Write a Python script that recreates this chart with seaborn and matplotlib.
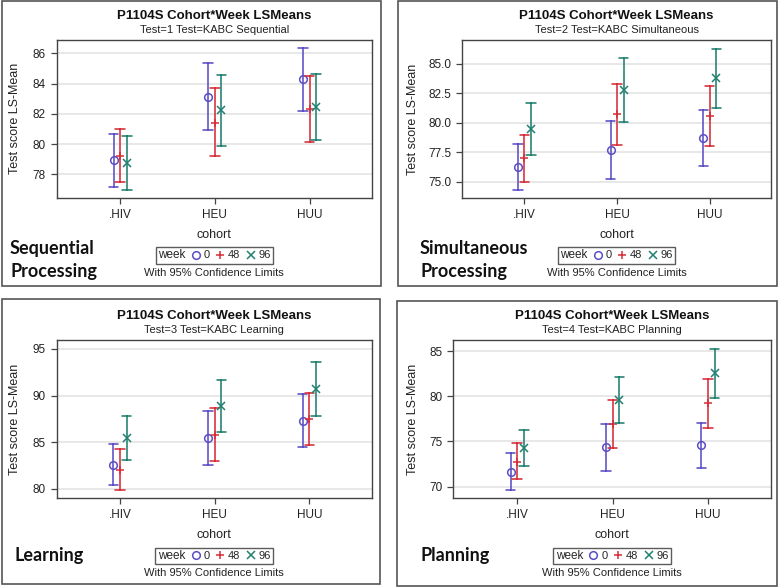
import numpy as np
import pandas as pd
import matplotlib
matplotlib.use("Agg")
import matplotlib.pyplot as plt
from matplotlib.lines import Line2D
from matplotlib.patches import Rectangle
import seaborn as sns

# ── Data ─────────────────────────────────────────────────────────────────
cohorts = [".HIV", "HEU", "HUU"]
weeks = ["0", "48", "96"]

subtitles = [
    "Test=1 Test=KABC Sequential",
    "Test=2 Test=KABC Simultaneous",
    "Test=3 Test=KABC Learning",
    "Test=4 Test=KABC Planning",
]
side_labels = ["Sequential\nProcessing", "Simultaneous\nProcessing", "Learning", "Planning"]

# values ordered cohort-major, week-minor
seq_mean = [78.93, 79.23, 78.75, 83.13, 81.41, 82.23, 84.28, 82.32, 82.47]
seq_low  = [77.19, 77.49, 76.96, 80.91, 79.19, 79.89, 82.19, 80.11, 80.29]
seq_high = [80.64, 80.97, 80.56, 85.36, 83.68, 84.59, 86.33, 84.52, 84.65]

sim_mean = [76.22, 76.98, 79.48, 77.66, 80.72, 82.82, 78.74, 80.61, 83.81]
sim_low  = [74.29, 74.97, 77.27, 75.23, 78.14, 80.07, 76.30, 78.06, 81.26]
sim_high = [78.20, 78.99, 81.66, 80.13, 83.27, 85.54, 81.12, 83.16, 86.30]

lrn_mean = [82.61, 82.04, 85.50, 85.50, 85.82, 88.89, 87.32, 87.50, 90.71]
lrn_low  = [80.43, 79.86, 83.11, 82.57, 83.00, 86.14, 84.46, 84.68, 87.79]
lrn_high = [84.79, 84.25, 87.86, 88.39, 88.68, 91.64, 90.18, 90.32, 93.64]

pln_mean = [71.66, 72.76, 74.31, 74.35, 76.89, 79.62, 74.61, 79.21, 82.53]
pln_low  = [69.59, 70.81, 72.32, 71.70, 74.24, 77.04, 72.06, 76.52, 79.80]
pln_high = [73.76, 74.79, 76.23, 76.97, 79.58, 82.16, 77.08, 81.91, 85.26]

yticks_list = [
    [78, 80, 82, 84, 86],
    [75.0, 77.5, 80.0, 82.5, 85.0],
    [80, 85, 90, 95],
    [70, 75, 80, 85],
]
ylims = [(76.46, 86.88), (73.58, 87.04), (79.0, 95.96), (68.71, 86.22)]

colors = ["#5a4ec6", "#d62d38", "#1f8070"]
markers = ["o", "+", "x"]


def build_frame(mean, low, high):
    # three rows per group: lower, mean, upper -> median gives the mean,
    # min/max give the confidence limits
    rows = []
    i = 0
    for c in cohorts:
        for w in weeks:
            for v in (low[i], mean[i], high[i]):
                rows.append({"cohort": c, "week": w, "value": v})
            i += 1
    return pd.DataFrame(rows)


frames = [
    build_frame(seq_mean, seq_low, seq_high),
    build_frame(sim_mean, sim_low, sim_high),
    build_frame(lrn_mean, lrn_low, lrn_high),
    build_frame(pln_mean, pln_low, pln_high),
]

# ── Layout (pixel boxes) ────────────────────────────────────────────────
W, H = 780, 588
axes_px = [
    (56.7, 40, 372, 197.7),
    (462.3, 40, 771, 198.3),
    (56.7, 340, 371.7, 498.3),
    (453.3, 340, 771, 498.3),
]
panel_px = [
    (2, 1, 381, 286),
    (398, 1, 777, 286),
    (2, 299, 380, 584),
    (397, 301, 777, 586),
]
side_px = [(10, 260), (420, 260), (15, 556), (420, 556)]
ylabel_x = [15, 413, 15, 413]


def fx(x):
    return x / W


def fy(y):
    return 1 - y / H


sns.set_style("white")
plt.rcParams["font.family"] = ["Liberation Sans", "DejaVu Sans"]

fig = plt.figure(figsize=(7.8, 5.88), dpi=100)

for k in range(4):
    l, t, r, b = axes_px[k]
    ax = fig.add_axes([fx(l), fy(b), (r - l) / W, (b - t) / H])
    sns.pointplot(
        data=frames[k], x="cohort", y="value", hue="week",
        order=cohorts, hue_order=weeks, palette=colors,
        estimator="median", errorbar=lambda v: (v.min(), v.max()),
        dodge=0.14, markers=markers, linestyle="none",
        capsize=0.1, err_kws={"linewidth": 1.15},
        markersize=5.5, markeredgewidth=1.1,
        legend=False, ax=ax,
    )
    for ln in ax.lines:
        if ln.get_marker() == "o":
            ln.set_markerfacecolor("none")

    ax.set_xlim(-0.67, 2.66)
    ax.set_ylim(*ylims[k])
    ax.set_yticks(yticks_list[k])
    if k == 1:
        ax.set_yticklabels([f"{v:.1f}" for v in yticks_list[k]])
    ax.yaxis.grid(True, color="#e4e4e4", linewidth=1.2)
    ax.set_axisbelow(True)
    for s in ax.spines.values():
        s.set_color("#444444")
        s.set_linewidth(1.0)
    ax.tick_params(axis="both", which="both", length=4, width=0.9,
                   color="#444444", labelsize=8.5, labelcolor="#222222",
                   left=True, bottom=True, pad=4)

    ax.set_xlabel("cohort", fontsize=9, color="#222222")
    ax.set_ylabel("Test score LS-Mean", fontsize=9, color="#222222")
    cy_lab = 235 if k < 2 else 535
    ax.xaxis.set_label_coords(0.5, (b - cy_lab) / (b - t))
    ax.xaxis.label.set_va("center")
    ax.yaxis.set_label_coords((ylabel_x[k] - l) / (r - l), 0.5)
    ax.yaxis.label.set_va("center")

    cx = (l + r) / 2
    ty = 16 if k < 2 else 316
    fig.text(fx(cx), fy(ty), "P1104S Cohort*Week LSMeans", ha="center",
             va="center", fontsize=9.5, fontweight="bold", color="#111111")
    fig.text(fx(cx), fy(ty + 14), subtitles[k], ha="center", va="center",
             fontsize=8, color="#222222")

    # legend: "week" title placed inline, to the left of the entries
    handles = []
    for c, m in zip(colors, markers):
        handles.append(Line2D([], [], linestyle="none", marker=m, color=c,
                              markerfacecolor="none", markersize=5.5,
                              markeredgewidth=1.1))
    leg_y = 255.5 if k < 2 else 556
    leg = ax.legend(handles, weeks, title="week", ncol=3, loc="center",
                    bbox_to_anchor=(fx(cx), fy(leg_y)),
                    bbox_transform=fig.transFigure, frameon=True,
                    fancybox=False, fontsize=8, title_fontsize=8.5,
                    handlelength=0.7, handletextpad=0.35, columnspacing=0.6,
                    borderpad=0.2, borderaxespad=0)
    box = leg.get_children()[0]
    title_box, entries_box = box.get_children()
    box._children = [entries_box]
    entries_box._children.insert(0, title_box)
    leg.get_frame().set_edgecolor("#333333")
    leg.get_frame().set_linewidth(1.0)
    fig.text(fx(cx), fy(leg_y + 17.5), "With 95% Confidence Limits",
             ha="center", va="center", fontsize=8, color="#222222")

    # side label
    sx, sy = side_px[k]
    fig.text(fx(sx), fy(sy), side_labels[k], ha="left", va="center",
             fontsize=13, fontweight="bold", family="Lato",
             color="#111111", linespacing=1.45)

    # panel border
    pl, pt, pr, pb = panel_px[k]
    fig.patches.append(Rectangle((fx(pl), fy(pb)), (pr - pl) / W,
                                 (pb - pt) / H, transform=fig.transFigure,
                                 fill=False, edgecolor="#555555",
                                 linewidth=1.2))

fig.savefig("out.png", dpi=100)
